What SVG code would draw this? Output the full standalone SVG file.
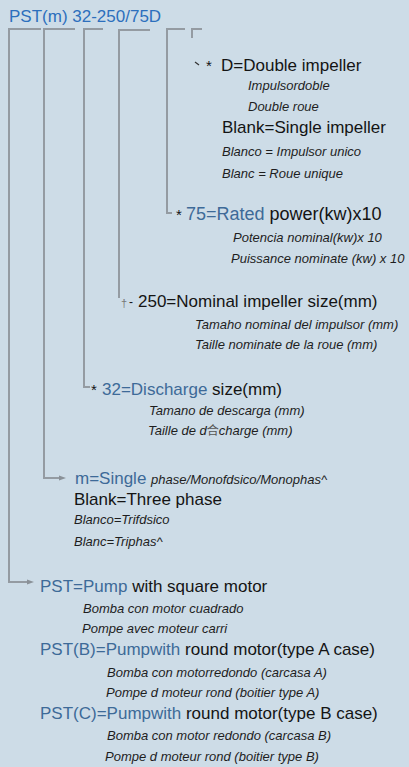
<svg xmlns="http://www.w3.org/2000/svg" width="409" height="767" viewBox="0 0 409 767">
<defs>
<style>
.t{font-family:"Liberation Sans",Arial,sans-serif;font-size:17px;fill:#141414}
.b{fill:#3d6a98}
.i{font-family:"Liberation Sans",Arial,sans-serif;font-size:13px;font-style:italic;fill:#1e1e1e}
.ln{fill:none;stroke:#949ba2;stroke-width:2}
</style>
<marker id="ah" viewBox="0 0 10 10" refX="9" refY="5" markerWidth="5" markerHeight="4" orient="auto" markerUnits="userSpaceOnUse">
<path d="M0,1 L10,5 L0,9 Z" fill="#8a9198"/>
</marker>
</defs>
<rect width="409" height="767" fill="#cddce7"/>
<g id="title"><text x="9" y="22" class="t" style="font-size:17px;fill:#2c6fbd">PST(m) 32-250/75D</text></g>
<g id="connectors">
<path class="ln" d="M41,29 H9 V582 H28"/>
<path d="M27,579.5 L34,582 L27,584.5 Z" fill="#8a9198"/>
<path class="ln" d="M75,29 H44 V478 H60"/>
<path d="M59,475.5 L66,478 L59,480.5 Z" fill="#8a9198"/>
<path class="ln" d="M103,29 H84 V387 H90"/>
<path class="ln" d="M150,30 H119 V298"/>
<path class="ln" d="M185,29 H167 V213 H172"/>
<path class="ln" d="M202,29 H192 V38"/>
<path d="M195,62 L199,65" stroke="#333" stroke-width="1.2" fill="none"/>
</g>
<g id="node-d">
<text x="206" y="71" class="t" style="font-size:15px">*</text>
<text x="221" y="71" class="t">D=Double impeller</text>
<text x="248" y="90" class="i">Impulsordoble</text>
<text x="248" y="111" class="i">Double roue</text>
<text x="222" y="133" class="t">Blank=Single impeller</text>
<text x="222" y="156" class="i">Blanco = Impulsor unico</text>
<text x="222" y="178" class="i">Blanc = Roue unique</text>
</g>
<g id="node-75">
<text x="176" y="220" class="t" style="font-size:15px">*</text>
<text x="186" y="220" class="t" style="font-size:18px"><tspan class="b">75=Rated</tspan> power(kw)x10</text>
<text x="233" y="242" class="i">Potencia nominal(kw)x 10</text>
<text x="231" y="263" class="i">Puissance nominate (kw) x 10</text>
</g>
<g id="node-250">
<text x="121" y="307" class="t" style="font-size:11px;fill:#777">†</text>
<text x="129" y="306" class="t" style="font-size:12px">-</text>
<text x="138" y="307" class="t">250=Nominal impeller size(mm)</text>
<text x="195" y="329" class="i">Tamaho nominal del impulsor (mm)</text>
<text x="195" y="349" class="i">Taille nominate de la roue (mm)</text>
</g>
<g id="node-32">
<text x="91" y="395" class="t" style="font-size:15px">*</text>
<text x="102" y="395" class="t"><tspan class="b">32=Discharge</tspan> size(mm)</text>
<text x="149" y="415" class="i">Tamano de descarga (mm)</text>
<text x="148" y="435" class="i">Taille de d<tspan style="font-style:normal;font-family:'Noto Sans CJK SC',sans-serif;font-size:12px;fill:#555">合</tspan>charge (mm)</text>
</g>
<g id="node-m">
<text x="75" y="484" class="t"><tspan class="b">m=Single</tspan> <tspan class="i">phase/Monofdsico/Monophas^</tspan></text>
<text x="74" y="505" class="t">Blank=Three phase</text>
<text x="74" y="524" class="i">Blanco=Trifdsico</text>
<text x="74" y="546" class="i">Blanc=Triphas^</text>
</g>
<g id="node-pst">
<text x="40" y="592" class="t"><tspan class="b">PST=Pump</tspan> with square motor</text>
<text x="83" y="613" class="i">Bomba con motor cuadrado</text>
<text x="82" y="633" class="i">Pompe avec moteur carri</text>
<text x="40" y="655" class="t"><tspan class="b">PST(B)=Pumpwith</tspan> round motor(type A case)</text>
<text x="107" y="677" class="i">Bomba con motorredondo (carcasa A)</text>
<text x="106" y="697" class="i">Pompe d moteur rond (boitier type A)</text>
<text x="40" y="719" class="t"><tspan class="b">PST(C)=Pumpwith</tspan> round motor(type B case)</text>
<text x="107" y="740" class="i">Bomba con motor redondo (carcasa B)</text>
<text x="105" y="761" class="i">Pompe d moteur rond (boitier type B)</text>
</g>
</svg>
